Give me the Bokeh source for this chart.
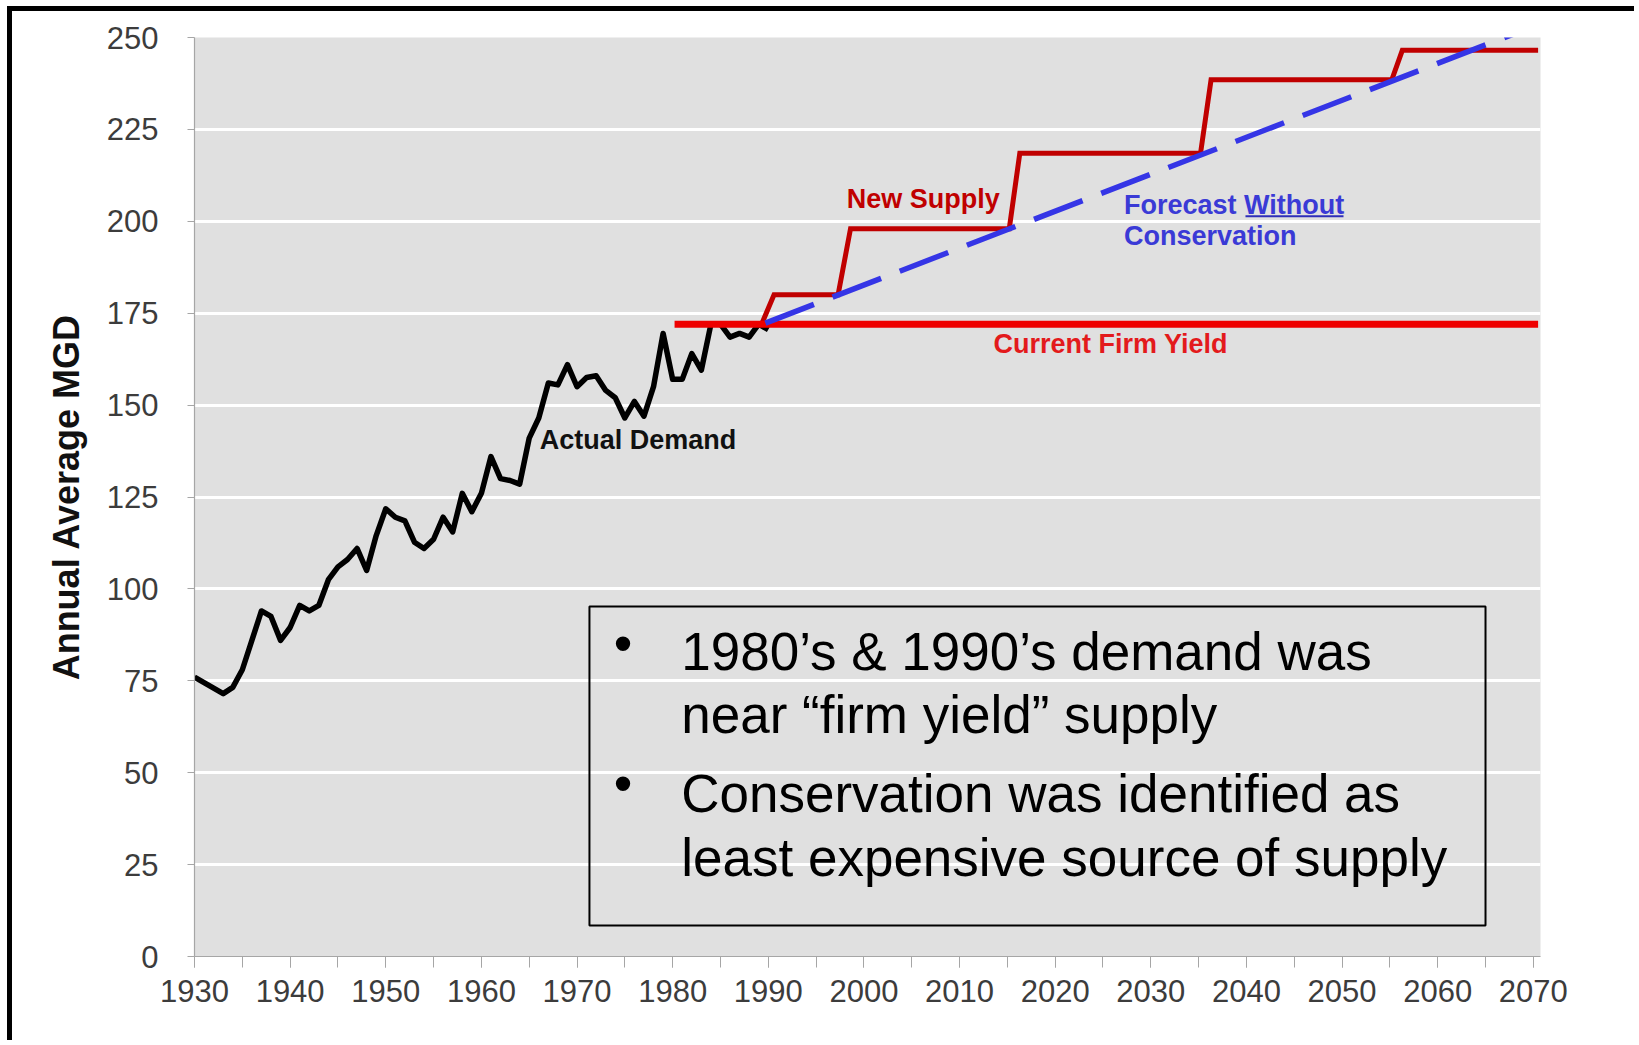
from bokeh.plotting import figure
from bokeh.models import Range1d, SingleIntervalTicker, Label, BoxAnnotation
from bokeh.embed import file_html
from bokeh.resources import INLINE

# ---------------- data ----------------
actual_years = list(range(1930, 1991))
actual_demand = [76, 74.5, 73, 71.5, 73.2, 78, 86, 94, 92.5, 86,
                 89.5, 95.5, 94, 95.5, 102.5, 106, 108, 111, 105, 114.5,
                 121.8, 119.5, 118.5, 112.7, 111, 113.5, 119.5, 115.5, 126, 121,
                 126, 136, 130, 129.5, 128.5, 141, 146.5, 156, 155.5, 161,
                 155, 157.5, 158, 154, 152, 146.5, 151, 147, 155, 169.5,
                 157, 157, 164, 159.5, 172, 172, 168.5, 169.5, 168.5, 172,
                 170.5]

firm_yield_years = [1980.2, 2070.5]
firm_yield_vals = [172, 172]

supply_years = [1989.3, 1990.6, 1997.3, 1998.6, 2015.2, 2016.3,
                2035.2, 2036.3, 2055.2, 2056.3, 2070.5]
supply_vals = [172, 180, 180, 198, 198, 218.5, 218.5, 238.5, 238.5, 246.5, 246.5]

forecast_years = [1989.7, 2069.0]
forecast_vals = [172.3, 252.0]

y_tick_step = 25
x_tick_step = 10

# ---------------- layout constants ----------------
OFF_X, OFF_Y = 12, 11          # page offset of the canvas (black frame drawn by CSS)
W, H = 1639 - OFF_X, 1045 - OFF_Y
FONT = "Liberation Sans"

p = figure(width=W, height=H, output_backend="svg", toolbar_location=None,
           x_range=Range1d(1930, 2070.75), y_range=Range1d(0, 250),
           min_border_left=194 - OFF_X, min_border_right=1639 - 1540,
           min_border_top=37 - OFF_Y, min_border_bottom=1045 - 956)
p.styles = {"margin-left": "7px", "margin-top": "6px",
            "border-left": "5px solid black", "border-top": "5px solid black"}

p.background_fill_color = "#e0e0e0"
p.border_fill_color = "white"
p.outline_line_color = None

# axes
p.xaxis.ticker = SingleIntervalTicker(interval=x_tick_step, num_minor_ticks=2)
p.yaxis.ticker = SingleIntervalTicker(interval=y_tick_step, num_minor_ticks=0)
for ax in (p.xaxis[0], p.yaxis[0]):
    ax.axis_line_color = "#a6a6a6"
    ax.axis_line_width = 1.2
    ax.major_tick_line_color = "#a6a6a6"
    ax.major_tick_in = 0
    ax.minor_tick_in = 0
    ax.major_label_text_font = FONT
    ax.major_label_text_font_size = "31px"
    ax.major_label_text_color = "#3c3c3c"
p.xaxis.major_tick_out = 11
p.xaxis.minor_tick_out = 11
p.xaxis.minor_tick_line_color = "#a6a6a6"
p.xaxis.major_label_standoff = 12
p.yaxis.major_tick_out = 7
p.yaxis.minor_tick_line_color = None
p.yaxis.major_label_standoff = 29

p.yaxis.axis_label = "Annual Average MGD"
p.yaxis.axis_label_text_font = FONT
p.yaxis.axis_label_text_font_style = "bold"
p.yaxis.axis_label_text_font_size = "36px"
p.yaxis.axis_label_text_color = "#111111"
p.yaxis.axis_label_standoff = 17

p.xgrid.grid_line_color = None
p.ygrid.grid_line_color = "white"
p.ygrid.grid_line_width = 3

# ---------------- series ----------------
p.line(actual_years, actual_demand, line_color="black", line_width=5.5, line_join="round")
p.line(supply_years, supply_vals, line_color="#c00000", line_width=5, line_join="miter")
p.line(firm_yield_years, firm_yield_vals, line_color="#ee0000", line_width=7)
p.line(forecast_years, forecast_vals, line_color="#3535e6", line_width=5.5, line_dash="52 20")

# ---------------- annotations ----------------
def lab(x, y, text, color, size="27px", style="bold", align="left"):
    p.add_layout(Label(x=x, y=y, text=text, text_color=color, text_font=FONT,
                       text_font_size=size, text_font_style=style,
                       text_align=align, text_baseline="alphabetic"))

lab(1966.1, 140.4, "Actual Demand", "#111111")
lab(1998.2, 206.2, "New Supply", "#c00000")
lab(2027.2, 204.4, "Forecast Without", "#3a3ad6")
lab(2027.2, 196.0, "Conservation", "#3a3ad6")
lab(2013.55, 166.5, "Current Firm Yield", "#e31a1c")

# underline of "Without"
p.segment(x0=[2039.9], y0=[201.4], x1=[2050.15], y1=[201.4],
          line_color="#2e2eb8", line_width=2)

# text box
p.add_layout(BoxAnnotation(left=1971.3, right=2065.0, top=95.2, bottom=8.4,
                           fill_color=None, fill_alpha=0,
                           line_color="black", line_alpha=1.0, line_width=2))
lab(1974.8, 85.2, "•", "black", size="53px", style="normal", align="center")
lab(1974.8, 47.1, "•", "black", size="53px", style="normal", align="center")
lab(1980.9, 83.0, "1980’s & 1990’s demand was", "black", size="53px", style="normal")
lab(1980.9, 65.8, "near “firm yield” supply", "black", size="53px", style="normal")
lab(1980.9, 44.4, "Conservation was identified as", "black", size="53px", style="normal")
lab(1980.9, 27.0, "least expensive source of supply", "black", size="53px", style="normal")

open("out.html", "w").write(file_html(p, INLINE))
